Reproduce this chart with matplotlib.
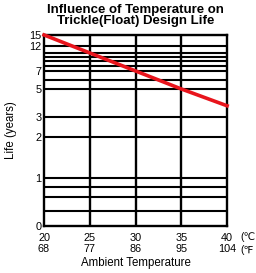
import numpy as np
import matplotlib
matplotlib.use('Agg')
import matplotlib.pyplot as plt

plt.rcParams.update({'font.family': 'Liberation Sans', 'font.size': 7})

# Datos
temp_c = [20, 25, 30, 35, 40]
temp_f = [68, 77, 86, 95, 104]
life_years = [15, 11, 7, 5, 3.8]

# Líneas de la rejilla y etiquetas del eje Y
grid_life = [0.25, 0.5, 0.75, 1, 2, 3, 5, 6, 7, 8, 9, 10, 11, 12, 15]
label_life = [0, 1, 2, 3, 5, 7, 12, 15]

# Escala no uniforme del original (nudos valor -> posición relativa)
knot_val = np.array([0, 0.25, 0.5, 0.75, 1, 2, 3, 5, 6, 7, 8, 9, 10, 11, 12, 15])
knot_pos = np.array([0, 15, 29, 39, 48, 89, 109, 137, 146, 155, 160, 165, 169, 173, 180, 191])

def fwd(v):
    return np.interp(v, knot_val, knot_pos)

def inv(p):
    return np.interp(p, knot_pos, knot_val)

fig = plt.figure(figsize=(2.56, 2.73), dpi=100)
ax = fig.add_axes([0.172, 0.172, 0.715, 0.7])
ax.set_yscale('function', functions=(fwd, inv))
ax.set_ylim(0, 15)
ax.set_xlim(20, 40)

for v in grid_life:
    ax.axhline(v, color='black', linewidth=1.5, zorder=1)
for t in temp_c[1:-1]:
    ax.axvline(t, color='black', linewidth=1.7, zorder=1)

ax.plot(temp_c, life_years, color='#e8141c', linewidth=2.6, zorder=3, clip_on=False)

ax.set_yticks(label_life)
ax.set_yticklabels([str(v) for v in label_life])
ax.yaxis.set_minor_locator(matplotlib.ticker.NullLocator())
ax.set_xticks(temp_c)
ax.set_xticklabels([f'{c}\n{f}' for c, f in zip(temp_c, temp_f)], linespacing=1.15)
ax.tick_params(axis='y', length=0, pad=2, labelsize=7.8)
ax.tick_params(axis='x', length=0, pad=5, labelsize=7.8)

for s in ax.spines.values():
    s.set_linewidth(1.7)

ax.text(1.075, -0.03, '(℃', transform=ax.transAxes, fontsize=7.5, va='top', ha='left',
        family=['Liberation Sans', 'DejaVu Sans'])
ax.text(1.075, -0.1, '(℉', transform=ax.transAxes, fontsize=7.5, va='top', ha='left',
        family=['Liberation Sans', 'DejaVu Sans'])

ax.set_xlabel('Ambient Temperature', fontsize=8.3, labelpad=2)
ax.set_ylabel('Life (years)', fontsize=8.3, labelpad=9)
fig.text(0.53, 0.985, 'Influence of Temperature on\nTrickle(Float) Design Life',
         ha='center', va='top', fontsize=9.5, fontweight='bold', linespacing=0.9)

fig.savefig('out.png', dpi=100)
